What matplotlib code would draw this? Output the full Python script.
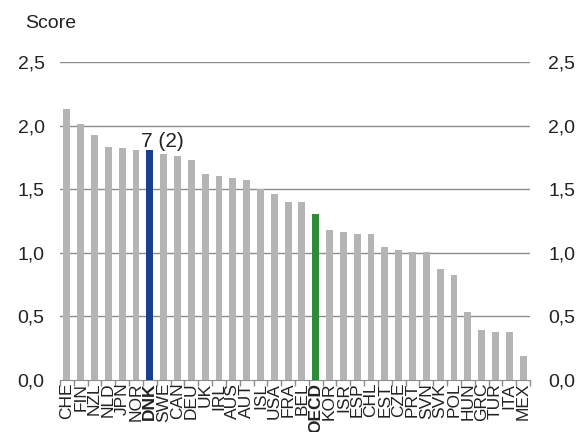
import matplotlib
matplotlib.use("Agg")
import matplotlib.pyplot as plt

plt.rcParams['font.family'] = ['Liberation Sans', 'DejaVu Sans']

categories = ["CHE", "FIN", "NZL", "NLD", "JPN", "NOR", "DNK", "SWE", "CAN", "DEU",
              "UK", "IRL", "AUS", "AUT", "ISL", "USA", "FRA", "BEL", "OECD", "KOR",
              "ISR", "ESP", "CHL", "EST", "CZE", "PRT", "SVN", "SVK", "POL", "HUN",
              "GRC", "TUR", "ITA", "MEX"]
values = [2.13, 2.01, 1.93, 1.83, 1.82, 1.81, 1.81, 1.78, 1.76, 1.73,
          1.62, 1.60, 1.59, 1.57, 1.50, 1.46, 1.40, 1.40, 1.305, 1.177,
          1.16, 1.15, 1.145, 1.045, 1.02, 1.01, 1.01, 0.87, 0.825, 0.535,
          0.395, 0.38, 0.377, 0.19]
yticks = [0.0, 0.5, 1.0, 1.5, 2.0, 2.5]
ytick_labels = ["0,0", "0,5", "1,0", "1,5", "2,0", "2,5"]
annotation = "7 (2)"

colors = []
for c in categories:
    if c == "DNK":
        colors.append("#17408f")
    elif c == "OECD":
        colors.append("#2e8b3a")
    else:
        colors.append("#b4b4b4")

fig = plt.figure(figsize=(5.81, 4.32), dpi=100)
ax = fig.add_axes([60/581, 1-380/432, 470/581, 318/432])
x = list(range(len(categories)))
ax.bar(x, values, width=0.5, color=colors, zorder=3)
ax.set_xlim(-0.5, len(categories)-0.5)
ax.set_ylim(0, 2.5)
ax.set_yticks(yticks)
ax.set_yticklabels(ytick_labels, fontsize=14, color="#222222")
for y in yticks[1:]:
    ax.axhline(y, color="#8c8c8c", lw=1.0, zorder=1)
for s in ["top", "left", "right"]:
    ax.spines[s].set_visible(False)
ax.spines["bottom"].set_color("#8c8c8c")
ax.tick_params(axis='y', length=0, pad=11)

# boundary ticks as major (no labels), category labels as minor
ax.set_xticks([i - 0.5 for i in range(len(categories)+1)])
ax.set_xticklabels([])
ax.tick_params(axis='x', which='major', length=4, width=1, color="#8c8c8c", direction='out')
ax.set_xticks(x, minor=True)
ax.set_xticklabels(categories, minor=True, rotation=90, fontsize=12.5, color="#222222")
ax.tick_params(axis='x', which='minor', length=0, pad=2)
for lab, c in zip(ax.get_xticklabels(minor=True), categories):
    if c in ("DNK", "OECD"):
        lab.set_fontweight("bold")

ax2 = ax.twinx()
ax2.set_ylim(0, 2.5)
ax2.set_yticks(yticks)
ax2.set_yticklabels(ytick_labels, fontsize=14, color="#222222")
ax2.tick_params(axis='y', length=0, pad=13)
for s in ["top", "left", "right", "bottom"]:
    ax2.spines[s].set_visible(False)

i = categories.index("DNK")
ax.text(i - 0.67, values[i] - 0.01, annotation, fontsize=15, ha='left', va='bottom', color="#222222", zorder=5)

fig.text(25/581, 1-23/432, "Score", fontsize=14, ha='left', va='center', color="#222222")

fig.savefig("out.png", dpi=100)
